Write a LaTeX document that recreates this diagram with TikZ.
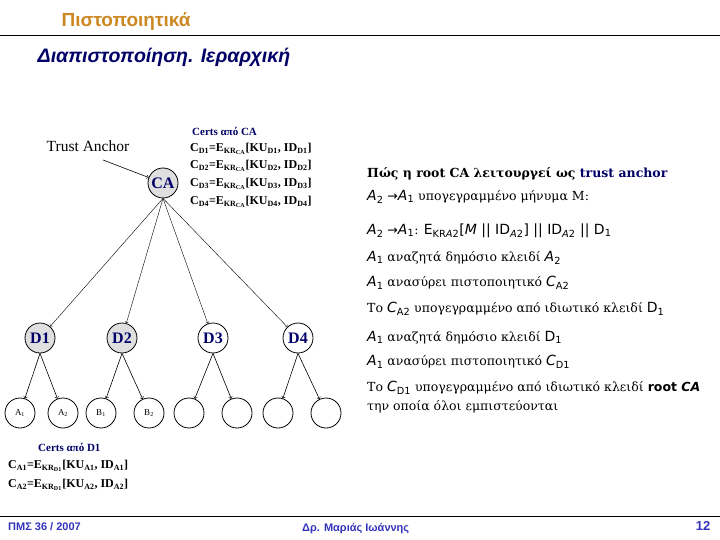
\documentclass[tikz,border=0pt]{standalone}
\usepackage{fontspec}
\setmainfont{Liberation Serif}
\setsansfont{Liberation Sans}
\newfontfamily\symfont{DejaVu Sans}
\newfontfamily\rserif{DejaVu Serif}
\newfontfamily\rsans{DejaVu Sans}
\usepackage{tikz}

\definecolor{titleorange}{RGB}{204,136,34}
\definecolor{navy}{RGB}{0,0,102}
\definecolor{footblue}{RGB}{51,51,187}

% A_1, C_{A2} ...
\newcommand{\bigsans}{\rsans\fontsize{14}{14}\selectfont}
\newcommand{\ent}[2]{{\bigsans\itshape #1\textsubscript{\upshape #2}}}

\tikzset{
  ca/.style={circle,draw,thick,fill=gray!25,minimum size=30pt,inner sep=0pt,
    font=\bfseries\fontsize{16}{16}\selectfont,text=navy},
  dom/.style={circle,draw,thick,minimum size=30pt,inner sep=0pt,
    font=\bfseries\fontsize{16}{16}\selectfont,text=navy},
  leaf/.style={circle,draw,thick,minimum size=30pt,inner sep=0pt,
    font=\fontsize{9}{9}\selectfont},
  txt/.style={anchor=west,inner sep=0pt,font=\rserif\fontsize{12.5}{14}\selectfont},
  cert/.style={anchor=west,inner sep=0pt,font=\bfseries\fontsize{12}{13}\selectfont},
  foot/.style={inner sep=0pt,text=footblue,font=\sffamily\bfseries\fontsize{11}{11}\selectfont},
}

\begin{document}
\begin{tikzpicture}[x=1pt,y=-1pt]
    \useasboundingbox (0,0) rectangle (720,540);

    % τίτλος
    \node[font=\sffamily\bfseries\fontsize{19}{19}\selectfont,text=titleorange] (title) at (126,21) {Πιστοποιητικά};
    \coordinate (rl) at (0,35);
    \coordinate (rr) at (720,35);
    \draw (rl) -- (rr);
    \node[font=\sffamily\bfseries\itshape\fontsize{19.5}{19.5}\selectfont,text=navy] (sub) at (164,57) {Διαπιστοποίηση. Ιεραρχική};

    % root CA
    \node[ca] (CA) at (163,183) {CA};
    \node[font=\fontsize{15.5}{15.5}\selectfont] (ta) at (88,146) {Trust Anchor};
    \draw[->,semithick] ([shift={(15,5)}]ta.south) -- (CA);

    % D1 ... D4
    \node[ca] (D1) at (40,338) {D1};
    \node[ca] (D2) at (122,338) {D2};
    \node[dom] (D3) at (213,338) {D3};
    \node[dom] (D4) at (298,338) {D4};
    \foreach \d in {D1,D2,D3,D4}
        \draw[->] (CA.south) -- (\d);

    % φύλλα
    \node[leaf] (A1) at (20,413) {A\textsubscript{1}};
    \node[leaf] (A2) at (63,413) {A\textsubscript{2}};
    \node[leaf] (B1) at (101,413) {B\textsubscript{1}};
    \node[leaf] (B2) at (149,413) {B\textsubscript{2}};
    \node[leaf] (E1) at (189,413) {};
    \node[leaf] (E2) at (237,413) {};
    \node[leaf] (F1) at (278,413) {};
    \node[leaf] (F2) at (326,413) {};
    \foreach \p/\a/\b in {D1/A1/A2,D2/B1/B2,D3/E1/E2,D4/F1/F2}{
        \draw[->,semithick] (\p.south) -- (\a);
        \draw[->,semithick] (\p.south) -- (\b);
    }

    % Certs από CA
    \node[cert,text=navy,font=\bfseries\fontsize{11}{11}\selectfont] (hca) at (192,131) {Certs από CA};
    \node[cert] (c1) at (190,149) {C\textsubscript{D1}=E\textsubscript{KR\textsubscript{CA}}[KU\textsubscript{D1}, ID\textsubscript{D1}]};
    \node[cert] (c2) at (190,166) {C\textsubscript{D2}=E\textsubscript{KR\textsubscript{CA}}[KU\textsubscript{D2}, ID\textsubscript{D2}]};
    \node[cert] (c3) at (190,184) {C\textsubscript{D3}=E\textsubscript{KR\textsubscript{CA}}[KU\textsubscript{D3}, ID\textsubscript{D3}]};
    \node[cert] (c4) at (190,202) {C\textsubscript{D4}=E\textsubscript{KR\textsubscript{CA}}[KU\textsubscript{D4}, ID\textsubscript{D4}]};

    % Certs από D1
    \node[cert,text=navy,font=\bfseries\fontsize{11}{11}\selectfont] (hd) at (38,447) {Certs από D1};
    \node[cert] (a1) at (8,466) {C\textsubscript{A1}=E\textsubscript{KR\textsubscript{D1}}[KU\textsubscript{A1}, ID\textsubscript{A1}]};
    \node[cert] (a2) at (8,485) {C\textsubscript{A2}=E\textsubscript{KR\textsubscript{D1}}[KU\textsubscript{A2}, ID\textsubscript{A2}]};

    % δεξιά: πώς η root CA λειτουργεί
    \node[txt] (t1) at (367,174) {\bfseries Πώς η root CA λειτουργεί ως \textcolor{navy}{trust anchor}};
    \node[txt] (t2) at (367,197) {\ent{A}{2} {\symfont →}\ent{A}{1} υπογεγραμμένο μήνυμα M:};
    \node[txt] (t3) at (367,231) {\ent{A}{2} {\symfont →}\ent{A}{1}: {\bigsans E\textsubscript{KR\textit{A}2}[\textit{M} || ID\textsubscript{\textit{A}2}] || ID\textsubscript{\textit{A}2} || D\textsubscript{1}}};
    \node[txt] (t4) at (367,258) {\ent{A}{1} αναζητά δημόσιο κλειδί \ent{A}{2}};
    \node[txt] (t5) at (367,283) {\ent{A}{1} ανασύρει πιστοποιητικό \ent{C}{A2}};
    \node[txt] (t6) at (367,309) {Το \ent{C}{A2} υπογεγραμμένο από ιδιωτικό κλειδί {\bigsans D\textsubscript{1}}};
    \node[txt] (t7) at (367,338) {\ent{A}{1} αναζητά δημόσιο κλειδί {\bigsans D\textsubscript{1}}};
    \node[txt] (t8) at (367,362) {\ent{A}{1} ανασύρει πιστοποιητικό \ent{C}{D1}};
    \node[txt] (t9) at (367,388) {Το \ent{C}{D1} υπογεγραμμένο από ιδιωτικό κλειδί {\rsans\bfseries root \itshape CA}};
    \node[txt] (t10) at (367,407) {την οποία όλοι εμπιστεύονται};

    % υποσέλιδο
    \coordinate (fl) at (0,516);
    \coordinate (fr) at (720,516);
    \draw (fl) -- (fr);
    \node[foot,anchor=west] (f1) at (8,527) {ΠΜΣ 36 / 2007};
    \node[foot,anchor=west] (f2) at (302,529) {Δρ. Μαριάς Ιωάννης};
    \node[foot,font=\sffamily\bfseries\fontsize{13}{13}\selectfont] (f3) at (703,526) {12};

\end{tikzpicture}
\end{document}
